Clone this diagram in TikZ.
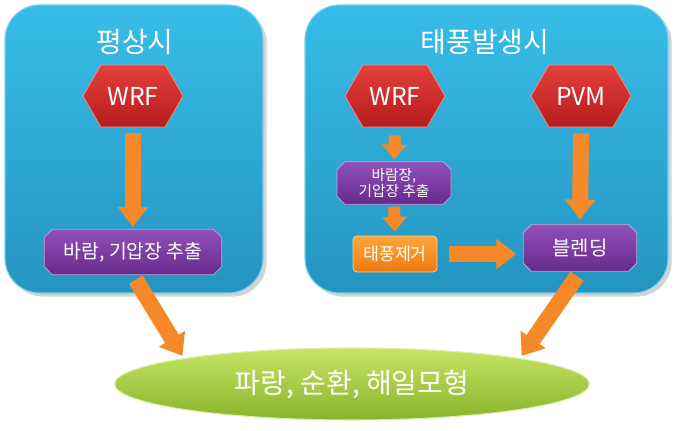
\documentclass[tikz,border=0pt]{standalone}
\usepackage{fontspec}
\setmainfont{Noto Sans CJK KR}
\usepackage{tikz}
\usetikzlibrary{arrows.meta,positioning,shapes.geometric,shapes.symbols,shapes.misc,shadows}

\definecolor{panelTop}{HTML}{38BDE8}
\definecolor{panelBot}{HTML}{2494C0}
\definecolor{hexTop}{HTML}{E5403C}
\definecolor{hexBot}{HTML}{B41C1C}
\definecolor{procTop}{HTML}{9152B8}
\definecolor{procBot}{HTML}{662A8C}
\definecolor{rmvTop}{HTML}{FFA63A}
\definecolor{rmvBot}{HTML}{F07A12}
\definecolor{modelTop}{HTML}{C8E466}
\definecolor{modelBot}{HTML}{86B52A}
\definecolor{flowCol}{HTML}{F5892A}

\begin{document}
\begin{tikzpicture}[x=0.75pt, y=-0.75pt,
            panel/.style={rectangle, rounded corners=26pt, top color=panelTop, bottom color=panelBot,
                 draw=panelTop!70!white, line width=0.8pt, drop shadow={opacity=.35}},
            ttl/.style={text=white, font=\fontsize{21pt}{24pt}\selectfont},
            hexa/.style={signal, signal to=west and east, signal pointer angle=120,
                 minimum width=75pt, minimum height=46.5pt, inner sep=0pt,
                 top color=hexTop, bottom color=hexBot, draw=hexTop!60!white, line width=0.6pt,
                 text=white, font=\fontsize{18.5pt}{22pt}\selectfont},
            proc/.style={chamfered rectangle, chamfered rectangle xsep=3pt, chamfered rectangle ysep=3pt,
                 top color=procTop, bottom color=procBot, draw=procTop!55!white, line width=0.6pt,
                 text=white, align=center, inner sep=1pt},
            rmv/.style={rectangle, rounded corners=3pt, top color=rmvTop, bottom color=rmvBot,
                 draw=rmvTop!60!white, line width=0.6pt, text=white,
                 minimum width=63pt, minimum height=27pt, font=\fontsize{13pt}{15pt}\selectfont},
            model/.style={ellipse, minimum width=356pt, minimum height=54pt,
                 top color=modelTop, bottom color=modelBot, draw=modelTop!60!white, line width=0.8pt,
                 text=white, font=\fontsize{21pt}{24pt}\selectfont},
            flow/.style={flowCol, line width=12pt, -{Triangle[length=15pt, width=22pt]}},
            flowsm/.style={flowCol, line width=9pt, -{Triangle[length=11pt, width=18pt]}}
            ]
            \useasboundingbox (0,0) rectangle (675,431);

            % Panels
            \node[panel, minimum width=193.5pt, minimum height=216pt] (normal) at (134,149) {};
            \node[panel, minimum width=272.25pt, minimum height=216pt] (typhoon) at (486.5,149) {};
            \node[ttl] (ttla) at (135,42) {평상시};
            \node[ttl] (ttlb) at (485,42) {태풍발생시};

            % Nodes with manual coordinates
            \node[hexa] (wrfa) at (133,96) {WRF};
            \node[hexa] (wrfb) at (395,96) {WRF};
            \node[hexa] (pvm) at (581,96) {PVM};
            \node[proc, minimum width=133pt, minimum height=34pt, font=\fontsize{14.5pt}{16pt}\selectfont]
                 (extra) at (133,252) {바람, 기압장 추출};
            \node[proc, minimum width=85.5pt, minimum height=32pt, font=\fontsize{11pt}{12.5pt}\selectfont]
                 (extrb) at (394,183) {바람장,\\기압장 추출};
            \node[rmv] (remove) at (395,254) {태풍제거};
            \node[proc, minimum width=85pt, minimum height=35pt, font=\fontsize{15pt}{17pt}\selectfont]
                 (blend) at (580,248) {블렌딩};
            \node[model] (model) at (352,384) {파랑, 순환, 해일모형};

            % Arrows
            \draw[flow, shorten <=4.5pt, shorten >=1.5pt] (wrfa.south) -- (extra.north);
            \draw[flowsm, shorten <=6pt, shorten >=1.5pt] (wrfb.south) -- (extrb.north);
            \draw[flowsm, shorten <=1.5pt, shorten >=3pt] (extrb.south) -- (remove.north);
            \draw[flow, shorten <=4.5pt, shorten >=3.5pt] (pvm.south) -- (blend.north);
            \draw[flow, shorten <=9pt, shorten >=5pt] (remove.east) -- (remove.east -| blend.west);
            \draw[flow, shorten <=4pt, shorten >=2pt] (extra.south) -- (model.north west);
            \draw[flow, shorten <=4pt, shorten >=2pt] (blend.south) -- (model.north east);
        \end{tikzpicture}
\end{document}
